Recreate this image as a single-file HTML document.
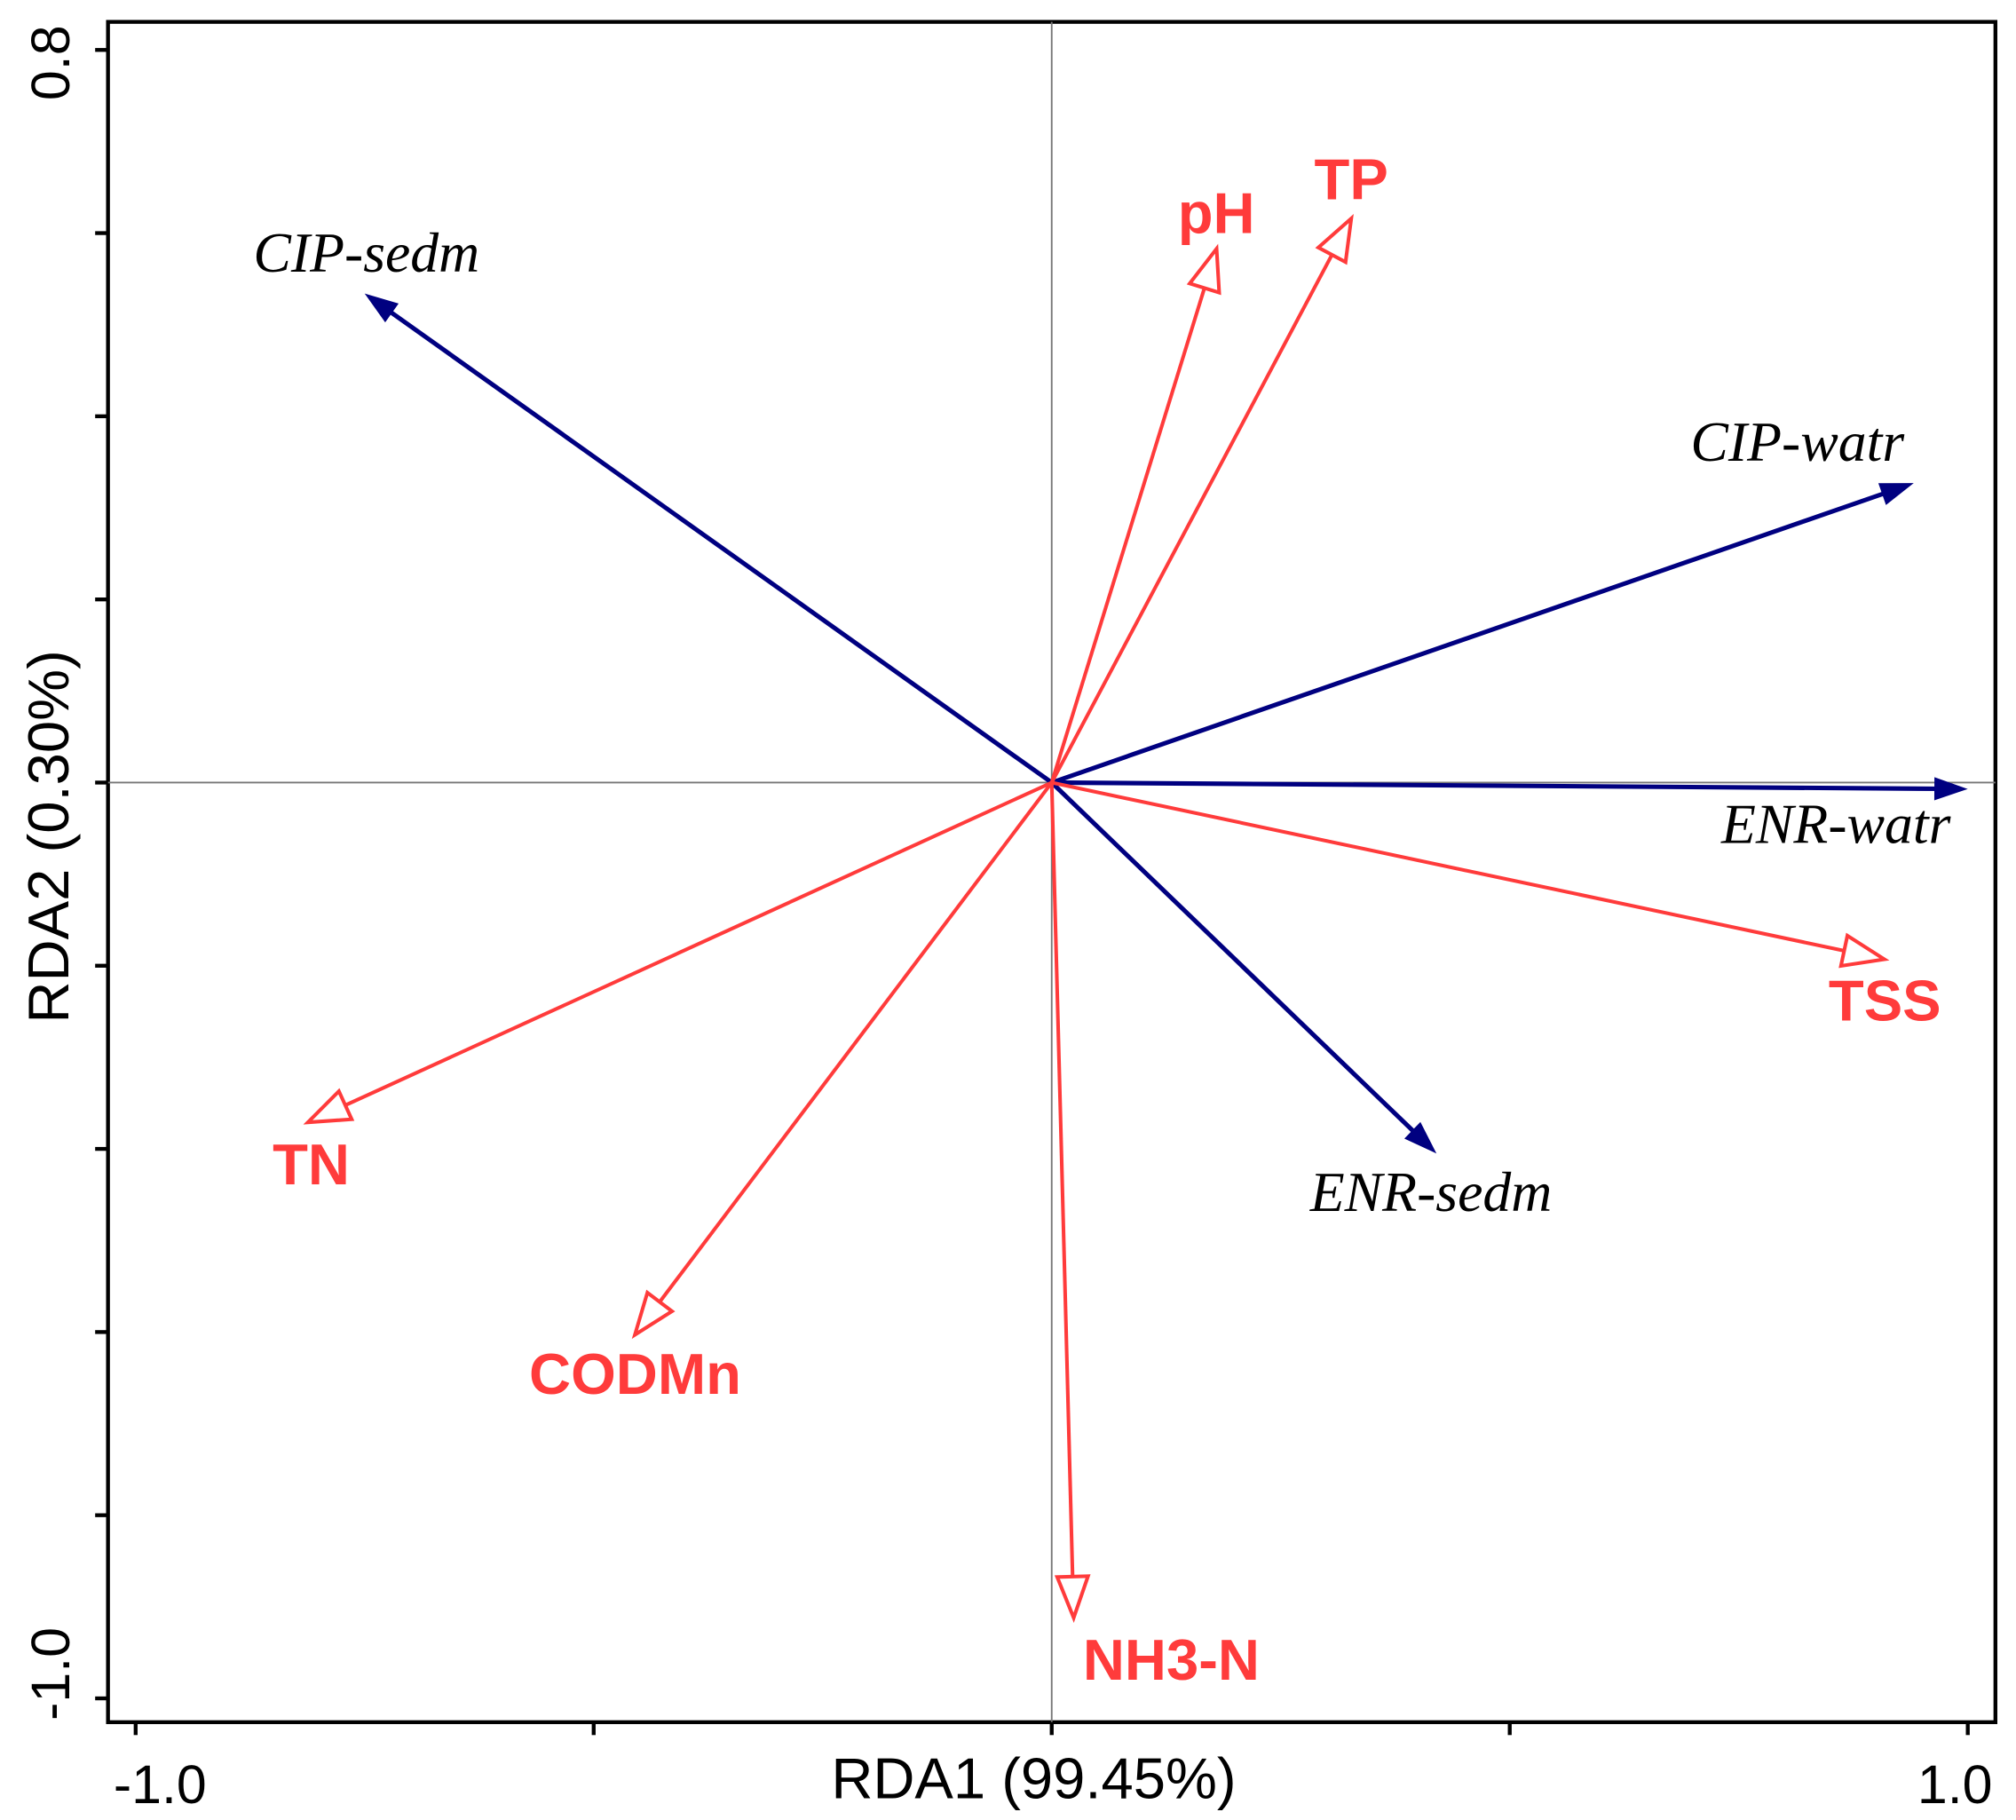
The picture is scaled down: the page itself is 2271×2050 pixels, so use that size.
<!DOCTYPE html>
<html><head><meta charset="utf-8"><style>
html,body{margin:0;padding:0;background:#fff;}
svg{display:block;}
</style></head><body>
<svg id="chart" width="2271" height="2050" viewBox="0 0 1568 1414" preserveAspectRatio="none" xmlns="http://www.w3.org/2000/svg">
<rect x="84" y="17" width="1468" height="1321" fill="none" stroke="#000" stroke-width="3"/>
<g id="axes"></g>
<g id="arrows"></g>
<text x="804" y="1397" font-family="Liberation Sans, sans-serif" font-size="45" text-anchor="middle" fill="#000">RDA1 (99.45%)</text>
<text transform="translate(53,650) rotate(-90)" font-family="Liberation Sans, sans-serif" font-size="45" text-anchor="middle" fill="#000">RDA2 (0.30%)</text>
</svg>
<script>
const respNames = ["CIP-sedm","CIP-watr","ENR-watr","ENR-sedm"];
const respX = [-0.75, 0.941, 1.0, 0.42];
const respY = [0.534, 0.327, -0.007, -0.405];
const envNames = ["pH","TP","TSS","TN","CODMn","NH3-N"];
const envX = [0.18, 0.327, 0.909, -0.812, -0.455, 0.024];
const envY = [0.583, 0.616, -0.193, -0.371, -0.603, -0.912];
const xTicks = [-1.0, -0.5, 0, 0.5, 1.0];
const xTickLabels = ["-1.0","","","","1.0"];
const yTicks = [0.8,0.6,0.4,0.2,0,-0.2,-0.4,-0.6,-0.8,-1.0];
const yTickLabels = ["0.8","","","","","","","","","-1.0"];

const NS="http://www.w3.org/2000/svg";
const X=v=>818+v*712.5, Y=v=>608-v*711.5;
function mk(tag,attrs,parent){const e=document.createElementNS(NS,tag);for(const k in attrs)e.setAttribute(k,attrs[k]);parent.appendChild(e);return e;}
const ax=document.getElementById('axes'), ar=document.getElementById('arrows');

let l=mk('line',{x1:X(0),y1:17,x2:X(0),y2:1338,stroke:'#777','stroke-width':1.3},ax);


l=mk('line',{x1:84,y1:Y(0),x2:1552,y2:Y(0),stroke:'#777','stroke-width':1.3},ax);



xTicks.forEach((v,i)=>{
  const t=mk('line',{x1:X(v),y1:1338,x2:X(v),y2:1348,stroke:'#000','stroke-width':3},ax);
  
  
  if(xTickLabels[i]){const off=v<0?19:-10;const s=mk('text',{x:X(v)+off,y:1401,'font-family':'Liberation Sans, sans-serif','font-size':42,'text-anchor':'middle'},ax);s.textContent=xTickLabels[i];
  
  }
});
yTicks.forEach((v,i)=>{
  const t=mk('line',{x1:74,y1:Y(v),x2:84,y2:Y(v),stroke:'#000','stroke-width':3},ax);
  
  
  if(yTickLabels[i]){const off=v<0?-19:10;const s=mk('text',{transform:`translate(54,${Y(v)+off}) rotate(-90)`,'font-family':'Liberation Sans, sans-serif','font-size':42,'text-anchor':'middle'},ax);s.textContent=yTickLabels[i];
  
  }
});

function head(x0,y0,x1,y1,len,w){
  const dx=x1-x0,dy=y1-y0,d=Math.hypot(dx,dy),ux=dx/d,uy=dy/d;
  const bx=x1-ux*len,by=y1-uy*len;
  return `${x1},${y1} ${bx-uy*w/2},${by+ux*w/2} ${bx+uy*w/2},${by-ux*w/2}`;
}
const respLab=[[285,211],[1398,358],[1428,655],[1113,941]];
respNames.forEach((n,i)=>{
  const x1=X(respX[i]),y1=Y(respY[i]);
  const g=mk('g',{},ar);
  
  
  const dx=x1-818,dy=y1-608,d=Math.hypot(dx,dy);
  mk('line',{x1:818,y1:608,x2:x1-dx/d*18,y2:y1-dy/d*18,stroke:'#000080','stroke-width':3.5},g);
  mk('polygon',{points:head(818,608,x1,y1,26,18),fill:'#000080'},g);
  const t=mk('text',{x:respLab[i][0],y:respLab[i][1],'font-family':'Liberation Serif, serif','font-style':'italic','font-size':44,'text-anchor':'middle',fill:'#000'},g);
  t.textContent=n;
  
  
});
const envLab=[[946,181],[1051,155],[1466,793],[242,920],[494,1083],[911,1305]];
envNames.forEach((n,i)=>{
  const x1=X(envX[i]),y1=Y(envY[i]);
  const g=mk('g',{},ar);
  
  
  const dx=x1-818,dy=y1-608,d=Math.hypot(dx,dy);
  mk('line',{x1:818,y1:608,x2:x1-dx/d*30,y2:y1-dy/d*30,stroke:'#ff3b3b','stroke-width':2.8},g);
  mk('polygon',{points:head(818,608,x1,y1,32,24),fill:'#fff',stroke:'#ff3b3b','stroke-width':2.8},g);
  const t=mk('text',{x:envLab[i][0],y:envLab[i][1],'font-family':'Liberation Sans, sans-serif','font-weight':'bold','font-size':45,'text-anchor':'middle',fill:'#ff3b3b'},g);
  t.textContent=n;
  
  
});
</script>
</body></html>
